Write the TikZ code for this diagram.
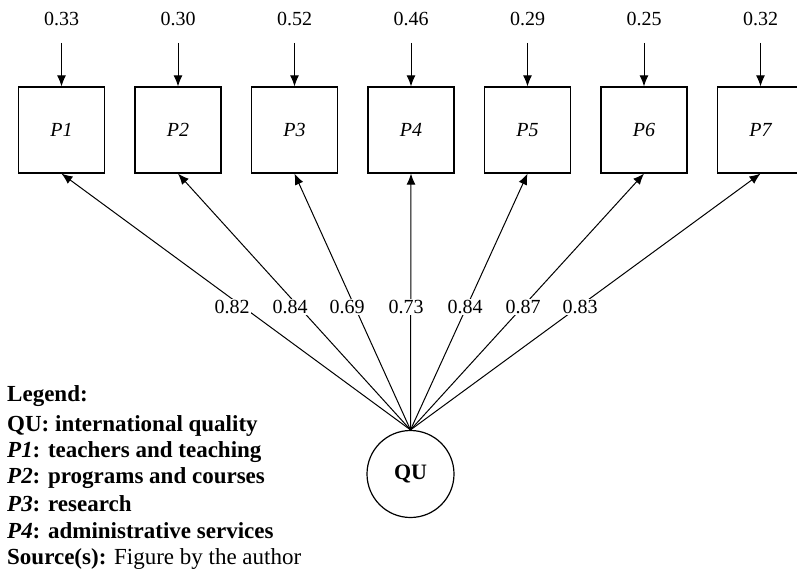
\documentclass[tikz,border=0pt]{standalone}
\usepackage{fontspec}
\setmainfont{Liberation Serif}
\usepackage{tikz}
\usetikzlibrary{arrows.meta}

\tikzset{
	ind/.style={rectangle, draw, line width=1.2pt, minimum width=86pt, minimum height=86pt, font=\itshape},
	lat/.style={circle, draw, line width=1.2pt, minimum size=87pt, inner sep=0pt, font=\fontsize{22}{26}\selectfont\bfseries},
	load/.style={fill=white, inner sep=1.5pt},
	arr/.style={-{Latex[length=11pt,width=9pt]}, line width=1pt},
	leg/.style={anchor=west, inner sep=0pt, font=\fontsize{23}{27}\selectfont\bfseries}
}

\begin{document}
\fontsize{20}{24}\selectfont
\begin{tikzpicture}[x=1pt, y=-1pt]
\useasboundingbox (0,0) rectangle (797,580);
% latent factor
\node [lat] (qu) at (410.5,474) {QU};
% indicators, errors and loadings
\foreach \i/\e/\l/\x in {1/0.33/0.82/232, 2/0.30/0.84/290, 3/0.52/0.69/347, 4/0.46/0.73/406, 5/0.29/0.84/465, 6/0.25/0.87/523, 7/0.32/0.83/580} {
	\node [ind] (p\i) at ({61.5+116.5*(\i-1)},130) {P\i};
	\node (e\i) at ({61.5+116.5*(\i-1)},19) {\e};
	\coordinate (s\i) at ({61.5+116.5*(\i-1)},43);
	\draw [arr] (s\i) -- (p\i.north);
	\draw [arr] (qu.north) -- (p\i.south);
	\node [load] (w\i) at (\x,307) {\l};
}
% legend
\node [leg] (lg) at (7,396) {Legend:};
\node [leg] (l0) at (7,426) {QU: international quality};
\node [leg] (l1) at (7,452) {{\itshape P1}: teachers and teaching};
\node [leg] (l2) at (7,478) {{\itshape P2}: programs and courses};
\node [leg] (l3) at (7,504) {{\itshape P3}: research};
\node [leg] (l4) at (7,531) {{\itshape P4}: administrative services};
\node [leg, font=\fontsize{23}{27}\selectfont] (src) at (7,559) {\textbf{Source(s):} Figure by the author};
\end{tikzpicture}
\end{document}
